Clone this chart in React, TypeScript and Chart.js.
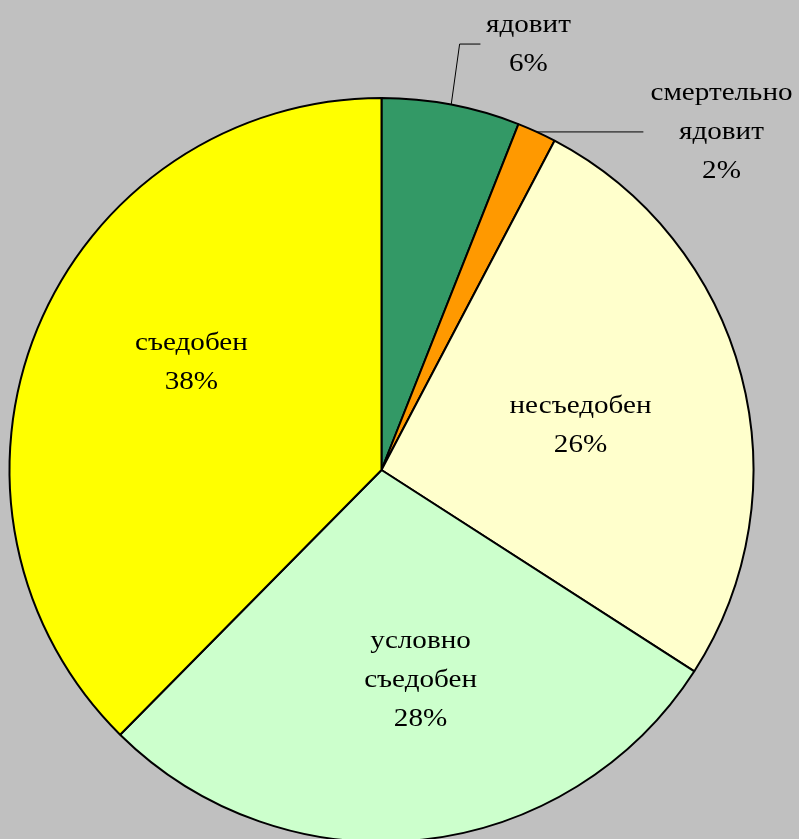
import React, { useEffect, useRef } from "react";
import { Chart, registerables } from "chart.js";

Chart.register(...registerables);

const categories = ["ядовит", "смертельно ядовит", "несъедобен", "условно съедобен", "съедобен"];
const labelLines = [["ядовит"], ["смертельно", "ядовит"], ["несъедобен"], ["условно", "съедобен"], ["съедобен"]];
const values = [6.0, 1.7, 26.4, 28.3, 37.6];
const colors = ["#339966", "#FF9900", "#FFFFCC", "#CCFFCC", "#FFFF00"];

// label anchors relative to pie centre, in units of radius (x = centre of text, y = first baseline)
const labelAnchors = [
  { dx: 0.395, dy: -1.177 },
  { dx: 0.914, dy: -0.995 },
  { dx: 0.535, dy: -0.153 },
  { dx: 0.105, dy: 0.478 },
  { dx: -0.511, dy: -0.323 },
];
// leader lines: list of points after the slice edge midpoint, in units of radius
const leaders: Record<number, { dx: number; dy?: number }[]> = {
  0: [{ dx: 0.21, dy: -1.145 }, { dx: 0.266, dy: -1.145 }],
  1: [{ dx: 0.704 }],
};

const labelPlugin = {
  id: "pieLabels",
  afterDatasetsDraw(chart: any) {
    const meta = chart.getDatasetMeta(0);
    const ctx = chart.ctx;
    const data = chart.data.datasets[0].data as number[];
    const total = data.reduce((a, b) => a + b, 0);
    ctx.save();
    ctx.font = '26px "Liberation Serif", "Times New Roman", serif';
    ctx.fillStyle = "#000";
    ctx.textAlign = "center";
    ctx.textBaseline = "alphabetic";
    const lh = 39;
    meta.data.forEach((arc: any, i: number) => {
      const { x, y, startAngle, endAngle, outerRadius } = arc.getProps(["x", "y", "startAngle", "endAngle", "outerRadius"], true);
      const r = outerRadius;
      const a = labelAnchors[i];
      const lines = [...labelLines[i], Math.round((data[i] / total) * 100) + "%"];
      lines.forEach((t, k) => {
        ctx.save();
        ctx.translate(x + a.dx * r, y + a.dy * r + k * lh);
        ctx.scale(1.12, 1);
        ctx.fillText(t, 0, 0);
        ctx.restore();
      });
      const ld = leaders[i];
      if (ld) {
        const mid = (startAngle + endAngle) / 2;
        const sx = x + r * Math.cos(mid);
        const sy = y + r * Math.sin(mid);
        ctx.beginPath();
        ctx.strokeStyle = "#000";
        ctx.lineWidth = 1;
        ctx.moveTo(sx, sy);
        ld.forEach((p) => {
          ctx.lineTo(x + p.dx * r, p.dy === undefined ? sy : y + p.dy * r);
        });
        ctx.stroke();
      }
    });
    ctx.restore();
  },
};

export default function App() {
  const ref = useRef<HTMLCanvasElement>(null);
  useEffect(() => {
    document.body.style.margin = "0";
    document.body.style.background = "#C0C0C0";
    const chart = new Chart(ref.current!, {
      type: "pie",
      data: {
        labels: categories,
        datasets: [
          {
            data: values,
            backgroundColor: colors,
            borderColor: "#000000",
            borderWidth: 2,
            radius: 372,
          } as any,
        ],
      },
      options: {
        responsive: false,
        animation: false,
        layout: { padding: { left: 0, right: 36, top: 94, bottom: 0 } },
        plugins: { legend: { display: false }, tooltip: { enabled: false } },
      },
      plugins: [labelPlugin],
    });
    return () => chart.destroy();
  }, []);
  return (
    <div style={{ width: 799, height: 839, overflow: "hidden", background: "#C0C0C0" }}>
      <canvas ref={ref} width={799} height={846} style={{ display: "block" }} />
    </div>
  );
}
